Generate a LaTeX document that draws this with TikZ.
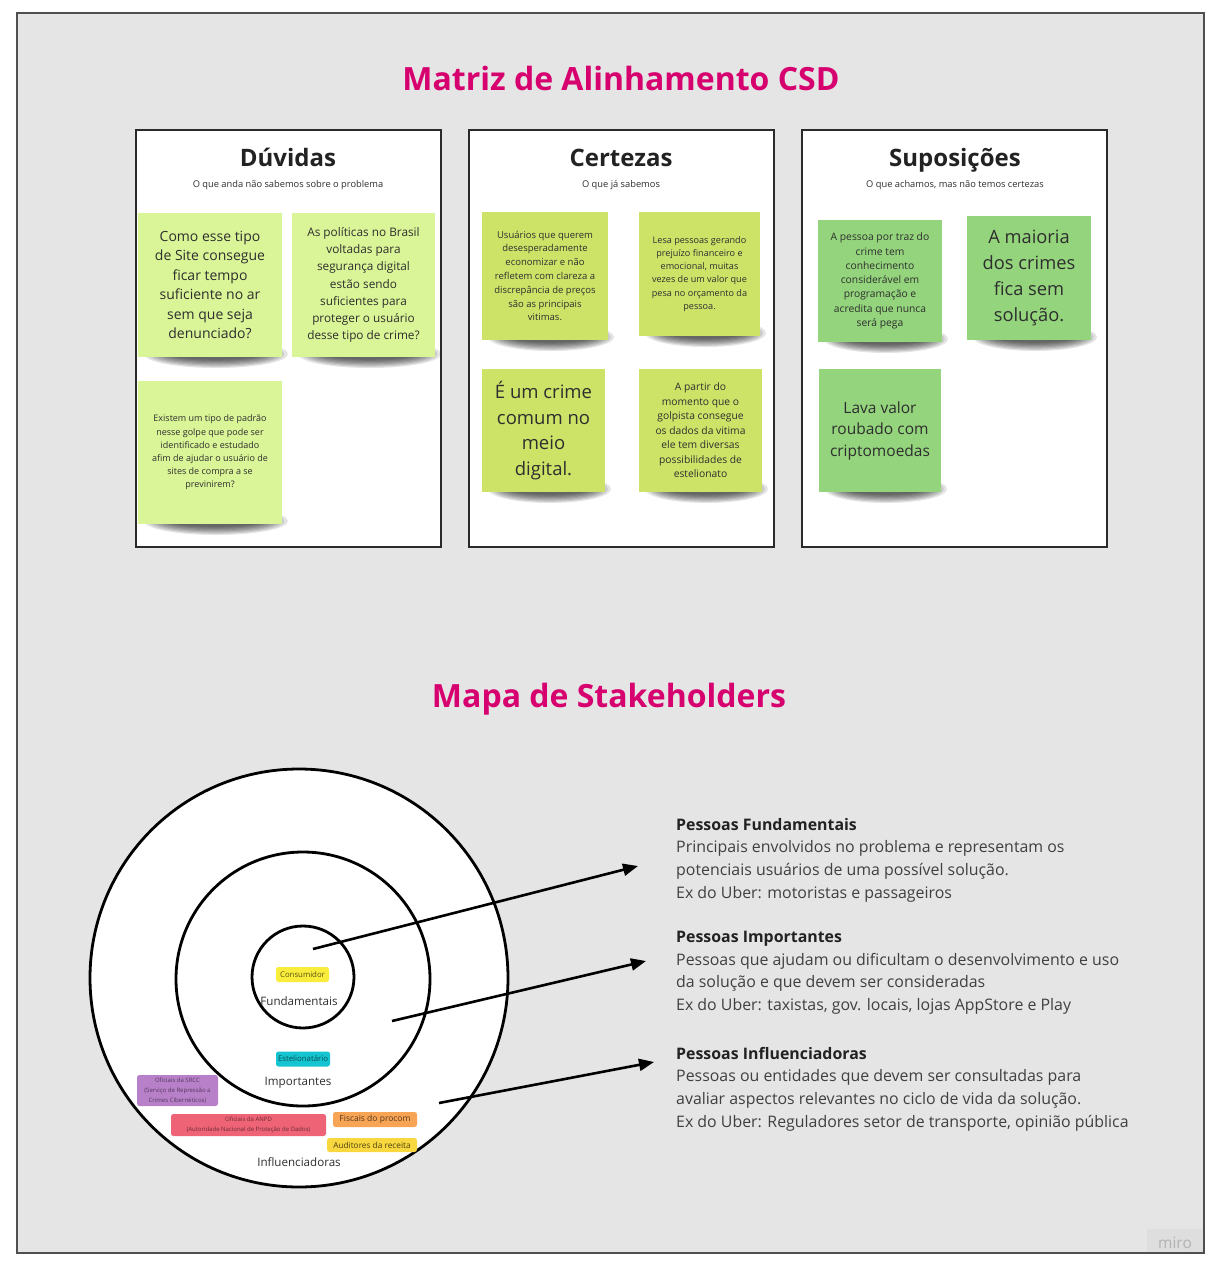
\documentclass[tikz,border=0pt]{standalone}
\usepackage{fontspec}
\setmainfont{Open Sans}
\usetikzlibrary{arrows.meta}

\definecolor{boardgray}{HTML}{E5E5E5}
\definecolor{boardline}{HTML}{4F4F4F}
\definecolor{panelline}{HTML}{2A2A2A}
\definecolor{titlepink}{HTML}{D6006E}
\definecolor{inktext}{HTML}{2E2E2E}
\definecolor{headtext}{HTML}{222222}
\definecolor{bodytext}{HTML}{404040}
\definecolor{notelight}{HTML}{DAF597}
\definecolor{notelime}{HTML}{CDE368}
\definecolor{notegreen}{HTML}{93D47C}
\definecolor{tagyellow}{HTML}{FAEC3B}
\definecolor{tagcyan}{HTML}{14C4D0}
\definecolor{tagpurple}{HTML}{B880C9}
\definecolor{tagred}{HTML}{EE6376}
\definecolor{tagorange}{HTML}{F8A455}
\definecolor{taggold}{HTML}{F8D83E}

\tikzset{
  bigtitle/.style={anchor=base, text=titlepink, font=\fontsize{32}{38}\selectfont\bfseries},
  panelbox/.style={draw=panelline, line width=2.6pt, fill=white},
  paneltitle/.style={anchor=base, text=headtext, font=\fontsize{24}{28}\selectfont\bfseries},
  panelsub/.style={anchor=base, text=inktext, font=\fontsize{9.3}{11}\selectfont},
  sticky/.style={draw=none, inner sep=0pt, align=center, text=inktext},
  ring/.style={draw=black, line width=2.8pt, fill=white},
  ringlabel/.style={text=inktext, font=\fontsize{11.6}{13}\selectfont},
  tagbox/.style={rounded corners=2.5pt, inner sep=0pt, align=center},
  pointer/.style={line width=2.6pt, -{Triangle[length=15pt,width=12pt]}},
  explain/.style={anchor=north west, inner sep=0pt, align=left, text=bodytext,
    font=\fontsize{15.9}{22.6}\selectfont},
}

% soft shadow under a sticky note: x1, x2, bottom y
\newcommand\notesh[3]{%
  \foreach \k in {0,...,7}{%
    \fill[black, opacity=0.105]
      ({(#1+#2)/2+6},{#3-3}) ellipse ({(#2-#1)*(0.5-0.025*\k)} and {14-1.2*\k});
  }}

% sticky note: name, x1, y1, x2, y2, colour, font, text
\newcommand\stickynote[8]{%
  \node[sticky, fill=#6, font=#7, minimum width={#4-#2}, minimum height={#5-#3}]
    (#1) at ({(#2+#4)/2},{(#3+#5)/2}) {#8};}

\newcommand\fs[2]{\fontsize{#1}{#2}\selectfont}

\begin{document}
\begin{tikzpicture}[x=1pt,y=-1pt]
\useasboundingbox (0,0) rectangle (1222,1277);
\fill[white] (0,0) rectangle (1222,1277);

% board
\draw[boardline, line width=1.4pt, fill=boardgray] (17,13) rectangle (1204,1253);
\fill[black!3!boardgray] (1147,1229) rectangle (1203,1252);
\node[text=black!30, font=\fontsize{15.5}{17}\selectfont] (logo) at (1175,1243) {miro};

% ---------------- CSD matrix ----------------
\node[bigtitle] (csd) at (621,90) {Matriz de Alinhamento CSD};

\draw[panelbox] (136,130) rectangle (441,547);
\draw[panelbox] (469,130) rectangle (774,547);
\draw[panelbox] (802,130) rectangle (1107,547);

\node[paneltitle] (tdu) at (288,166) {Dúvidas};
\node[panelsub] (sdu) at (288,187.5) {O que anda não sabemos sobre o problema};
\node[paneltitle] (tce) at (621,166) {Certezas};
\node[panelsub] (sce) at (621,187.5) {O que já sabemos};
\node[paneltitle] (tsu) at (955,166) {Suposições};
\node[panelsub] (ssu) at (955,187.5) {O que achamos, mas não temos certezas};

% shadows first
\notesh{138}{282}{357}
\notesh{292}{435}{357}
\notesh{138}{282}{524}
\notesh{482}{608}{340}
\notesh{639}{760}{336}
\notesh{482}{605}{492}
\notesh{639}{762}{492}
\notesh{818}{942}{342}
\notesh{967}{1091}{340}
\notesh{819}{941}{492}

% doubts
\stickynote{d1}{138}{213}{282}{357}{notelight}{\fs{14}{19.5}}
  {Como esse tipo\\de Site consegue\\ficar tempo\\suficiente no ar\\sem que seja\\denunciado?}
\stickynote{d2}{292}{213}{435}{357}{notelight}{\fs{11.8}{17.2}}
  {As políticas no Brasil\\voltadas para\\segurança digital\\estão sendo\\suficientes para\\proteger o usuário\\desse tipo de crime?}
\stickynote{d3}{138}{381}{282}{524}{notelight}{\fs{9}{13.2}}
  {Existem um tipo de padrão\\nesse golpe que pode ser\\identificado e estudado\\afim de ajudar o usuário de\\sites de compra a se\\previnirem?}

% certainties
\stickynote{c1}{482}{212}{608}{340}{notelime}{\fs{9.5}{13.8}}
  {Usuários que querem\\desesperadamente\\economizar e não\\refletem com clareza a\\discrepância de preços\\são as principais\\vitimas.}
\stickynote{c2}{639}{212}{760}{336}{notelime}{\fs{9.1}{13.1}}
  {Lesa pessoas gerando\\prejuízo financeiro e\\emocional, muitas\\vezes de um valor que\\pesa no orçamento da\\pessoa.}
\stickynote{c3}{482}{369}{605}{492}{notelime}{\fs{18.5}{25.7}}
  {É um crime\\comum no\\meio\\digital.}
\stickynote{c4}{639}{369}{762}{492}{notelime}{\fs{10.3}{14.5}}
  {A partir do\\momento que o\\golpista consegue\\os dados da vitima\\ele tem diversas\\possibilidades de\\estelionato}

% assumptions
\stickynote{s1}{818}{220}{942}{342}{notegreen}{\fs{10.3}{14.3}}
  {A pessoa por traz do\\crime tem\\conhecimento\\considerável em\\programação e\\acredita que nunca\\será pega}
\stickynote{s2}{967}{216}{1091}{340}{notegreen}{\fs{18.3}{25.7}}
  {A maioria\\dos crimes\\fica sem\\solução.}
\stickynote{s3}{819}{369}{941}{492}{notegreen}{\fs{15.5}{21.5}}
  {Lava valor\\roubado com\\criptomoedas}

% ---------------- stakeholder map ----------------
\node[bigtitle] (stk) at (609,707) {Mapa de Stakeholders};

\draw[ring] (299,978) circle[radius=209pt];
\draw[ring] (303,979) circle[radius=127pt];
\draw[ring] (303,977) circle[radius=51pt];

\node[tagbox, fill=tagyellow, minimum width=53pt, minimum height=15pt, text=black!55!tagyellow!80!black,
  font=\fs{7.8}{9}] (consumidor) at (302.5,974.5) {Consumidor};
\node[ringlabel] (lfund) at (299,1001) {Fundamentais};
\node[tagbox, fill=tagcyan, minimum width=54pt, minimum height=15pt, text=tagcyan!40!black,
  font=\fs{7.8}{9}] (estel) at (303,1059) {Estelionatário};
\node[ringlabel] (limp) at (298,1083) {Importantes};
\node[tagbox, fill=tagpurple, minimum width=81pt, minimum height=31pt, text=tagpurple!45!black,
  font=\fs{6}{10.3}] (srcc) at (177.5,1090.5)
  {Oficiais da SRCC\\(Serviço de Repressão a\\Crimes Cibernéticos)};
\node[tagbox, fill=tagred, minimum width=155pt, minimum height=22pt, text=tagred!45!black,
  font=\fs{6}{10.8}] (anpd) at (248.5,1125)
  {Oficiais da ANPD\\(Autoridade Nacional de Proteção de Dados)};
\node[tagbox, fill=tagorange, minimum width=84pt, minimum height=15pt, text=tagorange!35!black,
  font=\fs{8.5}{10}] (procom) at (375,1119.5) {Fiscais do procom};
\node[tagbox, fill=taggold, minimum width=90pt, minimum height=14pt, text=taggold!30!black,
  font=\fs{8.3}{10}] (receita) at (372,1145) {Auditores da receita};
\node[ringlabel] (linf) at (299,1162) {Influenciadoras};

% pointers to the explanations
\coordinate (a1s) at (313,949);
\coordinate (a1e) at (638,866);
\coordinate (a2s) at (392,1021);
\coordinate (a2e) at (646,961);
\coordinate (a3s) at (439,1103);
\coordinate (a3e) at (654,1062);
\draw[pointer] (a1s) -- (a1e);
\draw[pointer] (a2s) -- (a2e);
\draw[pointer] (a3s) -- (a3e);

\node[explain] (efund) at (676,818)
  {\textbf{\color{headtext}Pessoas Fundamentais}\\
   Principais envolvidos no problema e representam os\\
   potenciais usuários de uma possível solução.\\
   Ex do Uber: motoristas e passageiros};
\node[explain] (eimp) at (676,931)
  {\textbf{\color{headtext}Pessoas Importantes}\\
   Pessoas que ajudam ou dificultam o desenvolvimento e uso\\
   da solução e que devem ser consideradas\\
   Ex do Uber: taxistas, gov. locais, lojas AppStore e Play};
\node[explain] (einf) at (676,1047)
  {\textbf{\color{headtext}Pessoas Influenciadoras}\\
   Pessoas ou entidades que devem ser consultadas para\\
   avaliar aspectos relevantes no ciclo de vida da solução.\\
   Ex do Uber: Reguladores setor de transporte, opinião pública};
\end{tikzpicture}
\end{document}
